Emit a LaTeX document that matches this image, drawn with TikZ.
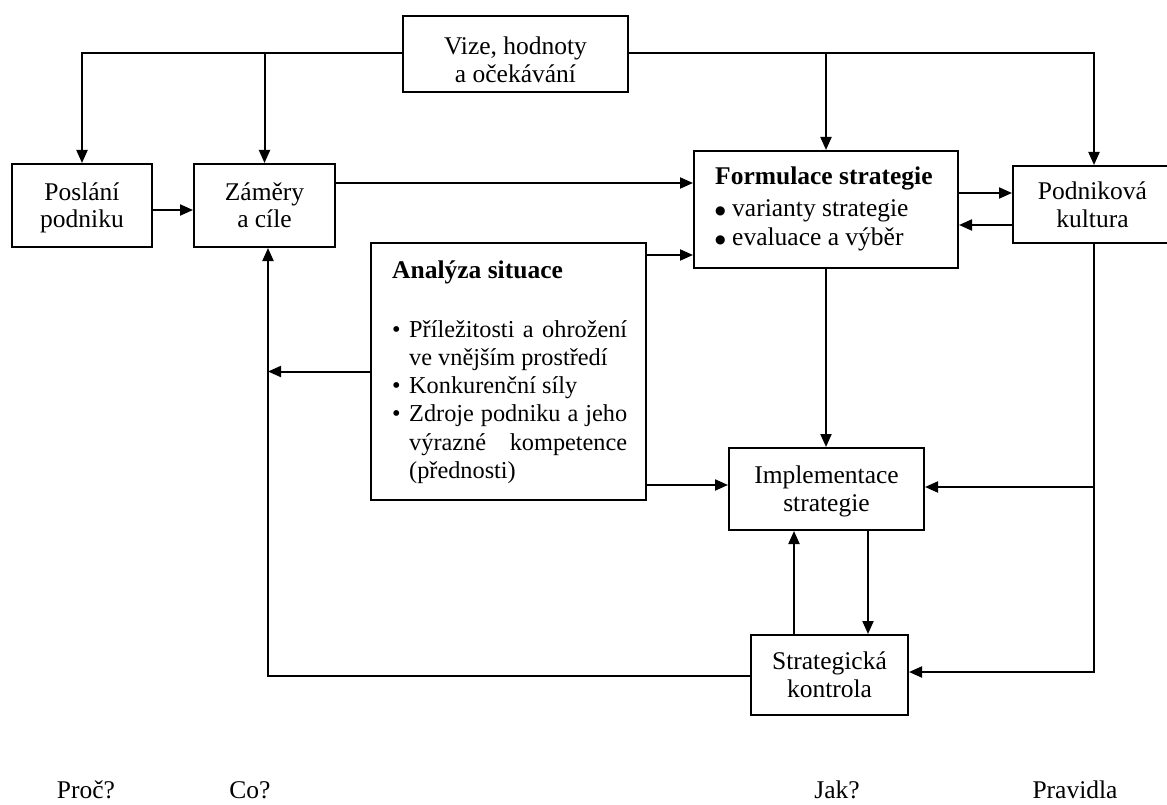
\documentclass[tikz,border=0pt]{standalone}
\usepackage{fontspec}
\setmainfont{Liberation Serif}
\newfontfamily\dotfont{DejaVu Sans}
\usetikzlibrary{arrows.meta}

\newcommand\txtfont{\fontsize{25.5}{28}\selectfont}
\newcommand\listfont{\fontsize{24.3}{28.3}\selectfont}
\newcommand\bigdot{\raisebox{2.5pt}{\dotfont\fontsize{12}{12}\selectfont ●}}

\tikzset{
  box/.style={draw, line width=2pt, inner sep=0pt, align=center, font=\txtfont,
    text height=47pt, text depth=2pt},
  arr/.style={line width=2pt, -{Triangle[length=13pt,width=11pt]}},
  lbl/.style={inner sep=0pt, font=\txtfont},
}

\begin{document}
\begin{tikzpicture}[x=1pt,y=-1pt]
\useasboundingbox (0,0) rectangle (1167,805);

% boxes
\node[box, text height=59pt, minimum width=225pt, minimum height=76pt] (vize) at (515.5,54) {Vize, hodnoty\\a očekávání};
\node[box, minimum width=140pt, minimum height=83pt] (posl) at (82,205.5) {Poslání\\podniku};
\node[box, minimum width=141pt, minimum height=83pt] (zam) at (264.5,205.5) {Záměry\\a cíle};
\node[box, minimum width=264pt, minimum height=117pt] (form) at (826,209.5) {};
\node[box, minimum width=159pt, minimum height=77pt] (podn) at (1092.5,204.5) {Podniková\\kultura};
\node[box, minimum width=275pt, minimum height=257pt] (ana) at (508.5,371.5) {};
\node[box, minimum width=195pt, minimum height=82pt] (impl) at (826.5,489) {Implementace\\strategie};
\node[box, minimum width=157pt, minimum height=80pt] (kontr) at (829.5,675) {Strategická\\kontrola};

% contents of the two list boxes
\node[lbl, anchor=base west] (formtxt) at (715,185) {\parbox[t]{240pt}{\fontsize{25.5}{29}\selectfont
  \textbf{Formulace strategie}\\[3pt]
  \makebox[17pt][l]{\bigdot}varianty strategie\\
  \makebox[17pt][l]{\bigdot}evaluace a výběr}};
\node[lbl, anchor=base west] (anatitle) at (392,278) {\textbf{Analýza situace}};
\node[lbl, anchor=base west] (anatxt) at (392,337) {\parbox[t]{240pt}{\listfont
  \makebox[17pt][l]{•}\makebox[218pt][s]{Příležitosti a ohrožení}\\
  \hspace*{17pt}ve vnějším prostředí\\
  \makebox[17pt][l]{•}Konkurenční síly\\
  \makebox[17pt][l]{•}\makebox[218pt][s]{Zdroje podniku a jeho}\\
  \hspace*{17pt}\makebox[218pt][s]{výrazné kompetence}\\
  \hspace*{17pt}(přednosti)}};

% column captions
\node[lbl, anchor=base] (proc) at (86,798) {Proč?};
\node[lbl, anchor=base] (co) at (250,798) {Co?};
\node[lbl, anchor=base] (jak) at (837,798) {Jak?};
\node[lbl, anchor=base] (prav) at (1075,798) {Pravidla};

% helper levels for connectors
\coordinate (yV) at (0,53);
\coordinate (yPZ) at (0,210);
\coordinate (yZF) at (0,183);
\coordinate (yFP) at (0,193);
\coordinate (yPF) at (0,225);
\coordinate (yAF) at (0,255);
\coordinate (yAI) at (0,485);
\coordinate (yPI) at (0,487);
\coordinate (yPK) at (0,672);
\coordinate (yKZ) at (0,676);
\coordinate (xZ) at (268,0);
\coordinate (xP) at (1094,0);
\coordinate (xKU) at (794,0);
\coordinate (xKD) at (868,0);

% connectors
\draw[arr] (vize.west |- yV) -| (posl.north);
\draw[arr] (zam.north |- yV) -- (zam.north);
\draw[arr] (vize.east |- yV) -| (xP |- podn.north);
\draw[arr] (form.north |- yV) -- (form.north);
\draw[arr] (posl.east |- yPZ) -- (zam.west |- yPZ);
\draw[arr] (zam.east |- yZF) -- (form.west |- yZF);
\draw[arr] (form.east |- yFP) -- (podn.west |- yFP);
\draw[arr] (podn.west |- yPF) -- (form.east |- yPF);
\draw[arr] (ana.east |- yAF) -- (form.west |- yAF);
\draw[arr] (ana.west) -- (xZ |- ana.west);
\draw[arr] (kontr.west |- yKZ) -| (xZ |- zam.south);
\draw[arr] (ana.east |- yAI) -- (impl.west |- yAI);
\draw[arr] (form.south) -- (form.south |- impl.north);
\draw[arr] (xP |- podn.south) |- (kontr.east |- yPK);
\draw[arr] (xP |- yPI) -- (impl.east |- yPI);
\draw[arr] (xKU |- kontr.north) -- (xKU |- impl.south);
\draw[arr] (xKD |- impl.south) -- (xKD |- kontr.north);
\end{tikzpicture}
\end{document}
